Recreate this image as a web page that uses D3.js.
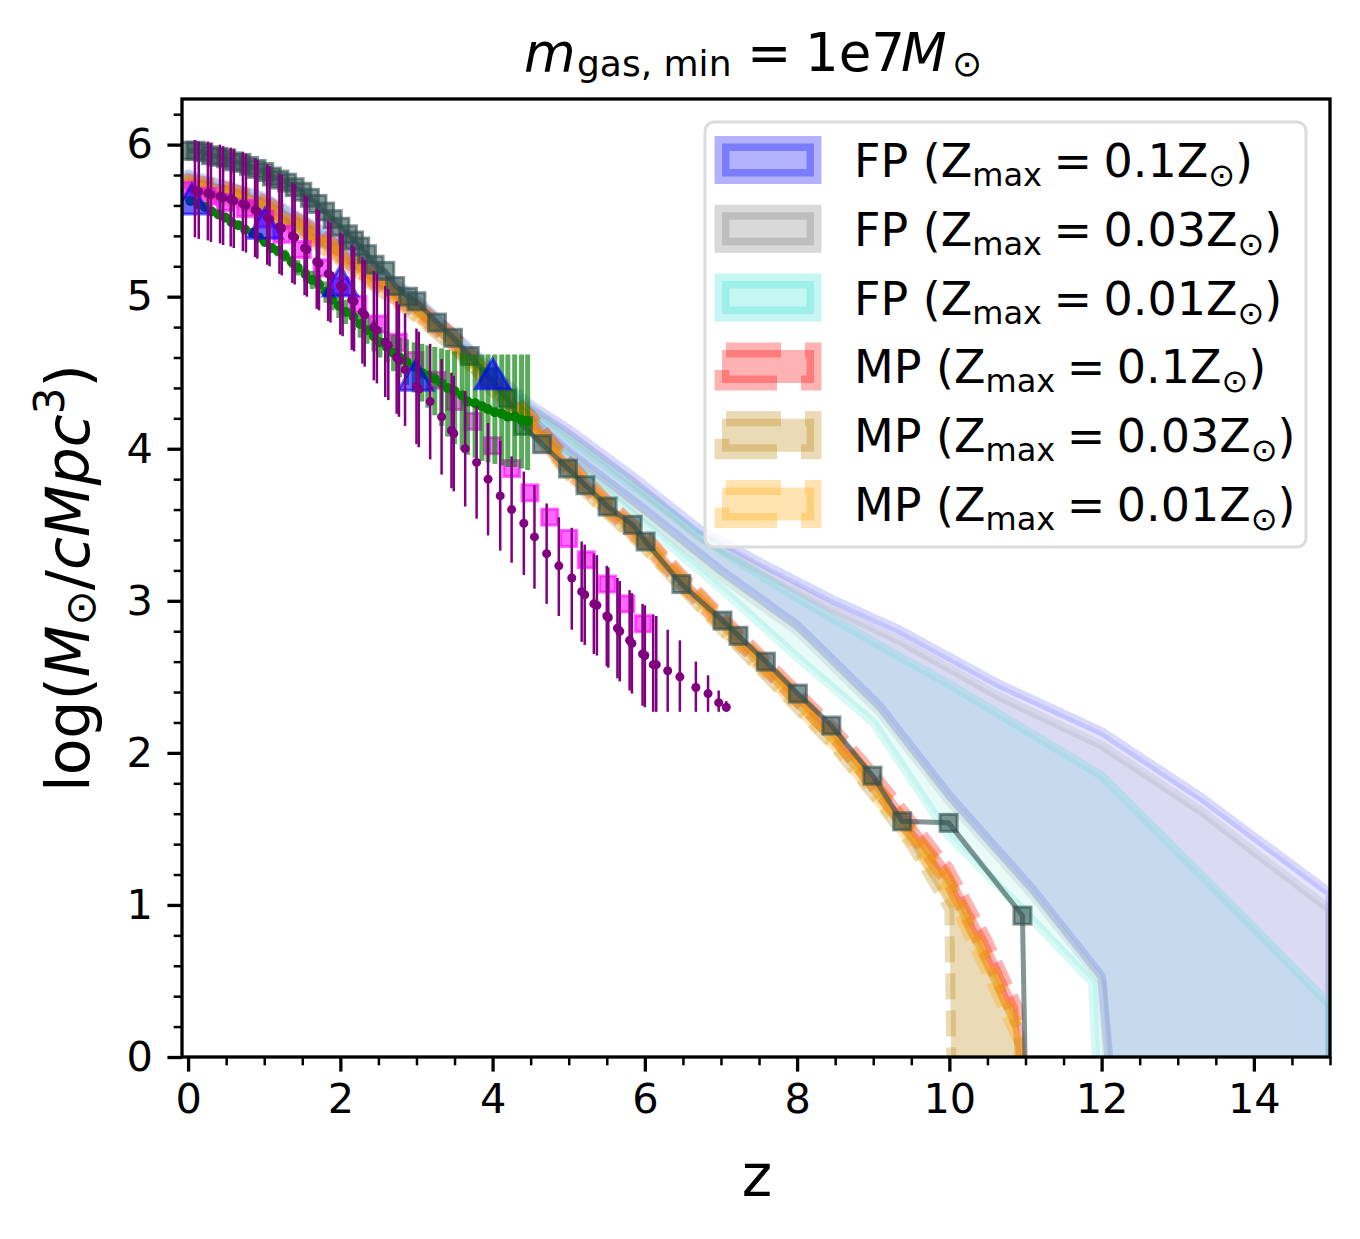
<!DOCTYPE html>
<html>
<head>
<meta charset="utf-8">
<script src="https://cdn.jsdelivr.net/npm/d3@7"></script>
<style>
  body { margin: 0; background: #fff; }
  svg text { font-family: 'DejaVu Sans', sans-serif; fill: #000; }
</style>
</head>
<body>
<div id="chart"></div>
<script>
// ---- data ----

// FP bands: upper and lower edges (z, log density); -0.6 means "below the axis"
const blueUpZ = [0, 1, 2, 3, 4, 4.5, 5, 5.84, 6.72, 7.6, 8.46, 9.34, 10.66, 12, 13.3, 14, 15];
const blueUpV = [5.81, 5.66, 5.37, 4.99, 4.52, 4.29, 4.13, 3.82, 3.47, 3.23, 3.01, 2.81, 2.45, 2.14, 1.71, 1.45, 1.08];
const blueLoZ = [0, 1, 2, 3, 4, 4.5, 5, 6, 7, 8, 8.29, 9.08, 10, 11.1, 12, 12.2, 15];
const blueLoV = [5.73, 5.58, 5.29, 4.92, 4.45, 4.2, 3.98, 3.6, 3.2, 2.84, 2.7, 2.31, 1.72, 1.1, 0.53, -0.6, -0.6];

const greyUpZ = [0, 1, 2, 3, 4, 4.5, 5, 5.84, 6.72, 7.6, 8.46, 9.34, 10.66, 12, 13.3, 14, 15];
const greyUpV = [5.8, 5.65, 5.36, 4.98, 4.51, 4.27, 4.1, 3.78, 3.42, 3.18, 2.95, 2.74, 2.37, 2.05, 1.62, 1.35, 0.97];
const greyLoZ = [0, 1, 2, 3, 4, 4.5, 5, 6, 7, 8, 8.29, 9.08, 10, 11.1, 12, 12.15, 15];
const greyLoV = [5.73, 5.58, 5.29, 4.92, 4.45, 4.2, 3.96, 3.56, 3.16, 2.8, 2.66, 2.27, 1.68, 1.06, 0.5, -0.6, -0.6];

const turqUpZ = [0, 1, 2, 3, 4, 4.5, 5, 6, 7, 8, 9, 10, 11, 12, 13.3, 14, 15];
const turqUpV = [5.8, 5.65, 5.36, 4.98, 4.5, 4.26, 4.07, 3.7, 3.33, 3.02, 2.73, 2.45, 2.15, 1.85, 1.2, 0.85, 0.34];
const turqLoZ = [0, 1, 2, 3, 4, 4.5, 5, 6, 7, 8, 9, 10, 11, 11.88, 11.98, 15];
const turqLoV = [5.73, 5.58, 5.29, 4.92, 4.45, 4.18, 3.93, 3.5, 3.08, 2.63, 2.2, 1.45, 0.95, 0.49, -0.6, -0.6];

// MP bands
const mpZ = [0, 0.5, 1, 1.5, 2, 2.5, 3, 3.5, 4, 4.5, 5, 5.5, 6, 6.5, 7, 7.5, 8, 8.5, 9, 9.5, 10, 10.5, 10.9, 11.02];
const redHi = [5.78, 5.73, 5.64, 5.50, 5.33, 5.14, 4.96, 4.75, 4.47, 4.23, 3.92, 3.67, 3.44, 3.17, 2.91, 2.66, 2.41, 2.16, 1.87, 1.56, 1.24, 0.77, 0.33, -0.6];
const redLo = [5.70, 5.65, 5.56, 5.42, 5.25, 5.06, 4.88, 4.67, 4.39, 4.15, 3.84, 3.59, 3.36, 3.09, 2.83, 2.58, 2.33, 2.08, 1.77, 1.46, 1.12, 0.63, 0.19, -0.6];
const orangeHi = [5.77, 5.72, 5.63, 5.49, 5.32, 5.13, 4.95, 4.74, 4.46, 4.22, 3.91, 3.66, 3.43, 3.16, 2.90, 2.64, 2.39, 2.13, 1.83, 1.51, 1.18, 0.67, 0.23, -0.6];
const orangeLo = [5.69, 5.64, 5.55, 5.41, 5.24, 5.05, 4.87, 4.66, 4.38, 4.14, 3.83, 3.58, 3.35, 3.08, 2.82, 2.56, 2.30, 2.04, 1.73, 1.41, 1.06, 0.54, 0.11, -0.6];
const tanZ = [0, 0.5, 1, 1.5, 2, 2.5, 3, 3.5, 4, 4.5, 5, 5.5, 6, 6.5, 7, 7.5, 8, 8.5, 9, 9.5, 10, 10.04, 10.5, 10.9, 11.0];
const tanHi = [5.76, 5.71, 5.62, 5.48, 5.31, 5.12, 4.94, 4.73, 4.45, 4.21, 3.90, 3.65, 3.42, 3.15, 2.89, 2.63, 2.37, 2.11, 1.81, 1.49, 1.16, 1.12, 0.64, 0.2, -0.6];
const tanLo = [5.68, 5.63, 5.54, 5.40, 5.23, 5.04, 4.86, 4.65, 4.37, 4.13, 3.82, 3.57, 3.34, 3.07, 2.81, 2.55, 2.29, 2.03, 1.72, 1.39, 0.97, -0.6, -0.6, -0.6, -0.6];

// dark slate grey squares
const darkZ = [0.0, 0.1, 0.2, 0.3, 0.4, 0.5, 0.6, 0.7, 0.8, 0.9, 1.0, 1.1, 1.2, 1.3, 1.4, 1.5, 1.6, 1.7, 1.8, 1.9, 2.0, 2.1, 2.18, 2.26, 2.35, 2.45, 2.59, 2.72, 2.89, 3.0, 3.27, 3.48, 3.70, 3.95, 4.19, 4.40, 4.65, 4.99, 5.22, 5.51, 5.84, 6.01, 6.48, 7.02, 7.23, 7.59, 8.01, 8.45, 8.99, 9.38, 9.99, 10.96, 11.03];
const darkV = [5.96, 5.96, 5.95, 5.93, 5.92, 5.91, 5.89, 5.88, 5.86, 5.84, 5.82, 5.79, 5.77, 5.75, 5.72, 5.69, 5.65, 5.61, 5.56, 5.51, 5.46, 5.41, 5.37, 5.33, 5.28, 5.21, 5.17, 5.07, 5.00, 4.97, 4.83, 4.73, 4.61, 4.47, 4.33, 4.15, 4.03, 3.87, 3.76, 3.62, 3.50, 3.39, 3.11, 2.87, 2.77, 2.60, 2.39, 2.18, 1.85, 1.55, 1.54, 0.93, -1];

// magenta squares
const magZ = [0.0, 0.26, 0.49, 0.75, 1.01, 1.23, 1.5, 1.76, 2.0, 2.23, 2.49, 2.76, 2.98, 3.27, 3.5, 3.74, 4.0, 4.25, 4.49, 4.75, 5.0, 5.23, 5.51, 5.75, 5.98];
const magV = [5.70, 5.66, 5.62, 5.58, 5.51, 5.41, 5.31, 5.19, 5.07, 4.95, 4.82, 4.70, 4.58, 4.45, 4.31, 4.18, 4.02, 3.87, 3.71, 3.55, 3.41, 3.27, 3.11, 2.98, 2.85];

// blue triangles
const triZ = [0.05, 1.01, 2.0, 2.99, 4.0];
const triV = [5.61, 5.45, 5.07, 4.45, 4.46];

// green points with error bars (value, lower end, upper end)
const greenZ = [0.03, 0.13, 0.22, 0.31, 0.40, 0.49, 0.57, 0.66, 0.75, 0.85, 0.93, 1.01, 1.10, 1.18, 1.27, 1.36, 1.44, 1.54, 1.63, 1.72, 1.81, 1.89, 1.98, 2.07, 2.17, 2.26, 2.35, 2.44, 2.52, 2.61, 2.70, 2.78, 2.87, 2.97, 3.07, 3.15, 3.24, 3.33, 3.41, 3.50, 3.60, 3.67, 3.77, 3.86, 3.94, 4.03, 4.12, 4.20, 4.29, 4.38, 4.46];
const greenV = [5.63, 5.61, 5.59, 5.56, 5.54, 5.52, 5.49, 5.47, 5.44, 5.42, 5.39, 5.36, 5.32, 5.30, 5.27, 5.23, 5.19, 5.15, 5.11, 5.08, 5.03, 4.98, 4.94, 4.90, 4.87, 4.82, 4.78, 4.74, 4.70, 4.67, 4.63, 4.60, 4.57, 4.54, 4.50, 4.48, 4.46, 4.43, 4.40, 4.38, 4.35, 4.31, 4.30, 4.28, 4.26, 4.24, 4.23, 4.21, 4.21, 4.19, 4.18];
const greenLo = [5.62, 5.60, 5.58, 5.55, 5.53, 5.505, 5.475, 5.45, 5.42, 5.40, 5.365, 5.33, 5.29, 5.265, 5.23, 5.19, 5.14, 5.10, 5.05, 5.02, 4.96, 4.91, 4.86, 4.82, 4.78, 4.73, 4.69, 4.64, 4.60, 4.57, 4.51, 4.47, 4.42, 4.37, 4.31, 4.27, 4.22, 4.15, 4.08, 4.03, 3.99, 3.96, 3.94, 3.92, 3.91, 3.90, 3.89, 3.88, 3.88, 3.87, 3.86];
const greenHi = [5.64, 5.62, 5.60, 5.57, 5.55, 5.535, 5.505, 5.49, 5.46, 5.44, 5.415, 5.39, 5.35, 5.335, 5.31, 5.27, 5.24, 5.20, 5.17, 5.14, 5.10, 5.05, 5.02, 4.98, 4.96, 4.91, 4.87, 4.84, 4.80, 4.77, 4.75, 4.73, 4.72, 4.70, 4.69, 4.68, 4.67, 4.66, 4.65, 4.64, 4.63, 4.62, 4.62, 4.62, 4.62, 4.62, 4.62, 4.62, 4.62, 4.62, 4.62];

// purple points with error bars (value, lower end, upper end)
const purpleZ = [0.09, 0.14, 0.26, 0.30, 0.42, 0.46, 0.56, 0.60, 0.72, 0.76, 0.88, 0.91, 1.04, 1.07, 1.20, 1.23, 1.37, 1.40, 1.53, 1.56, 1.69, 1.72, 1.84, 1.87, 2.00, 2.03, 2.15, 2.18, 2.29, 2.32, 2.44, 2.48, 2.59, 2.63, 2.74, 2.77, 2.85, 3.00, 3.03, 3.18, 3.33, 3.46, 3.49, 3.64, 3.79, 3.94, 4.10, 4.25, 4.41, 4.55, 4.71, 4.87, 5.04, 5.17, 5.21, 5.33, 5.37, 5.50, 5.52, 5.64, 5.67, 5.80, 5.83, 5.97, 6.00, 6.11, 6.15, 6.30, 6.46, 6.67, 6.83, 6.97, 7.07];
const purpleV = [5.70, 5.69, 5.68, 5.67, 5.66, 5.65, 5.64, 5.63, 5.61, 5.60, 5.57, 5.56, 5.52, 5.51, 5.46, 5.45, 5.40, 5.39, 5.32, 5.31, 5.23, 5.22, 5.15, 5.14, 5.07, 5.06, 4.98, 4.97, 4.90, 4.88, 4.80, 4.78, 4.70, 4.68, 4.60, 4.58, 4.52, 4.41, 4.39, 4.31, 4.21, 4.12, 4.10, 4.00, 3.91, 3.80, 3.69, 3.60, 3.51, 3.42, 3.31, 3.23, 3.15, 3.06, 3.04, 2.98, 2.97, 2.90, 2.89, 2.82, 2.80, 2.74, 2.72, 2.65, 2.64, 2.58, 2.58, 2.54, 2.50, 2.43, 2.39, 2.33, 2.30];
const purpleLo = [5.39, 5.38, 5.37, 5.36, 5.35, 5.34, 5.33, 5.32, 5.30, 5.29, 5.26, 5.25, 5.21, 5.20, 5.15, 5.14, 5.09, 5.08, 5.01, 5.00, 4.92, 4.91, 4.84, 4.83, 4.75, 4.74, 4.65, 4.64, 4.56, 4.54, 4.45, 4.43, 4.34, 4.32, 4.23, 4.21, 4.15, 4.03, 4.01, 3.93, 3.83, 3.74, 3.72, 3.62, 3.54, 3.43, 3.33, 3.25, 3.17, 3.08, 2.98, 2.90, 2.81, 2.73, 2.71, 2.65, 2.64, 2.57, 2.56, 2.49, 2.47, 2.41, 2.39, 2.31, 2.30, 2.27, 2.27, 2.27, 2.27, 2.27, 2.27, 2.27, 2.27];
const purpleHi = [6.03, 6.02, 6.02, 6.01, 6.00, 5.99, 5.98, 5.97, 5.95, 5.94, 5.91, 5.90, 5.87, 5.86, 5.81, 5.80, 5.75, 5.74, 5.67, 5.66, 5.58, 5.57, 5.50, 5.49, 5.42, 5.41, 5.34, 5.33, 5.26, 5.24, 5.17, 5.15, 5.07, 5.05, 4.97, 4.95, 4.89, 4.79, 4.77, 4.69, 4.59, 4.50, 4.48, 4.38, 4.28, 4.17, 4.05, 3.95, 3.85, 3.76, 3.64, 3.55, 3.48, 3.39, 3.37, 3.31, 3.30, 3.23, 3.22, 3.15, 3.13, 3.07, 3.05, 2.98, 2.97, 2.91, 2.90, 2.81, 2.74, 2.60, 2.51, 2.41, 2.34];

// ticks and legend text
const xMajor = [0, 2, 4, 6, 8, 10, 12, 14];
const xMinor = [0.5, 1, 1.5, 2.5, 3, 3.5, 4.5, 5, 5.5, 6.5, 7, 7.5, 8.5, 9, 9.5, 10.5, 11, 11.5, 12.5, 13, 13.5, 14.5, 15];
const yMajor = [0, 1, 2, 3, 4, 5, 6];
const yMinor = [0.2, 0.4, 0.6, 0.8, 1.2, 1.4, 1.6, 1.8, 2.2, 2.4, 2.6, 2.8, 3.2, 3.4, 3.6, 3.8, 4.2, 4.4, 4.6, 4.8, 5.2, 5.4, 5.6, 5.8, 6.2];
const legendModel = ['FP', 'FP', 'FP', 'MP', 'MP', 'MP'];
const legendZmax = ['0.1', '0.03', '0.01', '0.1', '0.03', '0.01'];
const legendColours = ['#0000ff', '#808080', '#40e0d0', '#ff0000', '#b8860b', '#ffa500'];

// ---- drawing ----
const W = 1360, H = 1239;
const plot = { left: 182, right: 1330, top: 99, bottom: 1057 };
const FONT = "'DejaVu Sans', sans-serif";
const SP = '\u2005';

const x = d3.scaleLinear().domain([-0.08, 15]).range([plot.left, plot.right]);
const y = d3.scaleLinear().domain([0, 6.3]).range([plot.bottom, plot.top]);

const svg = d3.select('#chart').append('svg').attr('width', W).attr('height', H);

svg.append('defs').append('clipPath').attr('id', 'plot-clip')
  .append('rect')
  .attr('x', plot.left).attr('y', plot.top)
  .attr('width', plot.right - plot.left).attr('height', plot.bottom - plot.top);

const g = svg.append('g').attr('clip-path', 'url(#plot-clip)');

const pts = (zs, vs) => zs.map((z, i) => [z, vs[i]]);
const line = d3.line().x((d) => x(d[0])).y((d) => y(d[1]));

function drawBand(up, lo, colour, fillOp, edgeOp, edgeW, dash) {
  const d = line(up.concat(lo.slice().reverse())) + 'Z';
  g.append('path').attr('d', d)
    .attr('fill', colour).attr('fill-opacity', fillOp).attr('stroke', 'none');
  g.append('path').attr('d', d)
    .attr('fill', 'none')
    .attr('stroke', colour).attr('stroke-opacity', edgeOp)
    .attr('stroke-width', edgeW)
    .attr('stroke-linejoin', 'round')
    .attr('stroke-dasharray', dash || null);
}

// FP bands
drawBand(pts(blueUpZ, blueUpV), pts(blueLoZ, blueLoV), '#0000ff', 0.1, 0.15, 9);
drawBand(pts(greyUpZ, greyUpV), pts(greyLoZ, greyLoV), '#808080', 0.1, 0.15, 9);
drawBand(pts(turqUpZ, turqUpV), pts(turqLoZ, turqLoV), '#40e0d0', 0.12, 0.2, 9);

// MP bands
drawBand(pts(mpZ, redHi), pts(mpZ, redLo), '#ff0000', 0.3, 0.3, 10, '26,11');
drawBand(pts(tanZ, tanHi), pts(tanZ, tanLo), '#b8860b', 0.3, 0.3, 10, '26,11');
drawBand(pts(mpZ, orangeHi), pts(mpZ, orangeLo), '#ffa500', 0.3, 0.3, 10, '26,11');

// dark slate grey line with squares
const dark = pts(darkZ, darkV);
g.append('path').attr('d', line(dark))
  .attr('fill', 'none').attr('stroke', '#2f4f4f')
  .attr('stroke-opacity', 0.6).attr('stroke-width', 5);
g.selectAll('rect.dark').data(dark).join('rect')
  .attr('class', 'dark')
  .attr('x', (d) => x(d[0]) - 8.5).attr('y', (d) => y(d[1]) - 8.5)
  .attr('width', 17).attr('height', 17)
  .attr('fill', '#2f4f4f').attr('fill-opacity', 0.6)
  .attr('stroke', '#2f4f4f').attr('stroke-opacity', 0.6).attr('stroke-width', 3);

// magenta squares
g.selectAll('rect.mag').data(pts(magZ, magV)).join('rect')
  .attr('class', 'mag')
  .attr('x', (d) => x(d[0]) - 8).attr('y', (d) => y(d[1]) - 8)
  .attr('width', 16).attr('height', 16)
  .attr('fill', '#ff00ff').attr('fill-opacity', 0.6)
  .attr('stroke', '#ff00ff').attr('stroke-opacity', 0.6).attr('stroke-width', 3);

// green points with error bars
const green = greenZ.map((z, i) => ({ z, v: greenV[i], lo: greenLo[i], hi: greenHi[i] }));
g.selectAll('line.gerr').data(green).join('line')
  .attr('class', 'gerr')
  .attr('x1', (d) => x(d.z)).attr('x2', (d) => x(d.z))
  .attr('y1', (d) => y(d.lo)).attr('y2', (d) => y(d.hi))
  .attr('stroke', '#008000').attr('stroke-opacity', 0.65).attr('stroke-width', 5);
g.append('path').attr('d', line(pts(greenZ, greenV)))
  .attr('fill', 'none').attr('stroke', '#008000').attr('stroke-width', 3);
g.selectAll('circle.gdot').data(green).join('circle')
  .attr('class', 'gdot')
  .attr('cx', (d) => x(d.z)).attr('cy', (d) => y(d.v)).attr('r', 5)
  .attr('fill', '#008000');

// blue triangles
g.selectAll('path.tri').data(pts(triZ, triV)).join('path')
  .attr('class', 'tri')
  .attr('transform', (d) => `translate(${x(d[0])},${y(d[1])})`)
  .attr('d', d3.symbol(d3.symbolTriangle, 520))
  .attr('fill', '#0000ff').attr('fill-opacity', 0.6)
  .attr('stroke', '#0000ff').attr('stroke-opacity', 0.6).attr('stroke-width', 3);

// purple points with error bars
const purple = purpleZ.map((z, i) => ({ z, v: purpleV[i], lo: purpleLo[i], hi: purpleHi[i] }));
g.selectAll('line.perr').data(purple).join('line')
  .attr('class', 'perr')
  .attr('x1', (d) => x(d.z)).attr('x2', (d) => x(d.z))
  .attr('y1', (d) => y(d.lo)).attr('y2', (d) => y(d.hi))
  .attr('stroke', '#800080').attr('stroke-width', 2.5);
g.selectAll('circle.pdot').data(purple).join('circle')
  .attr('class', 'pdot')
  .attr('cx', (d) => x(d.z)).attr('cy', (d) => y(d.v)).attr('r', 4.5)
  .attr('fill', '#800080');

// ---- axes ----
const TICK_FONT = 41.5;
function styleAxis(sel, width) {
  sel.select('.domain').remove();
  sel.selectAll('.tick line').attr('stroke', '#000').attr('stroke-width', width);
  sel.selectAll('.tick text').attr('font-family', FONT).attr('font-size', TICK_FONT).attr('fill', '#000');
}

svg.append('g')
  .attr('transform', `translate(0,${plot.bottom})`)
  .call(d3.axisBottom(x).tickValues(xMajor).tickSize(14.6).tickPadding(12).tickFormat(d3.format('d')))
  .call((s) => styleAxis(s, 3.3));
svg.append('g')
  .attr('transform', `translate(0,${plot.bottom})`)
  .call(d3.axisBottom(x).tickValues(xMinor).tickSize(8.3).tickFormat(''))
  .call((s) => styleAxis(s, 2.5));
svg.append('g')
  .attr('transform', `translate(${plot.left},0)`)
  .call(d3.axisLeft(y).tickValues(yMajor).tickSize(14.6).tickPadding(14.6).tickFormat(d3.format('d')))
  .call((s) => styleAxis(s, 3.3));
svg.append('g')
  .attr('transform', `translate(${plot.left},0)`)
  .call(d3.axisLeft(y).tickValues(yMinor).tickSize(8.3).tickFormat(''))
  .call((s) => styleAxis(s, 2.5));

svg.append('rect')
  .attr('x', plot.left).attr('y', plot.top)
  .attr('width', plot.right - plot.left).attr('height', plot.bottom - plot.top)
  .attr('fill', 'none').attr('stroke', '#000').attr('stroke-width', 3.3);

// ---- title and axis labels ----
const title = svg.append('text')
  .attr('y', 71)
  .attr('font-family', FONT).attr('font-size', 53);
title.append('tspan').attr('x', 524).attr('font-style', 'italic').text('m');
title.append('tspan').attr('x', 577).attr('font-size', 36).attr('dy', 5).text('gas, min');
title.append('tspan').attr('x', 747).attr('dy', -5).text('=');
title.append('tspan').attr('x', 805).text('1e7');
title.append('tspan').attr('x', 901).attr('font-style', 'italic').text('M');
title.append('tspan').attr('x', 952).attr('font-size', 36).attr('dy', 5).text('\u2299');

const ylab = svg.append('text')
  .attr('transform', 'translate(89,578) rotate(-90)')
  .attr('text-anchor', 'middle')
  .attr('font-family', FONT).attr('font-size', 60);
ylab.append('tspan').text('log(');
ylab.append('tspan').attr('font-style', 'italic').text('M');
ylab.append('tspan').attr('font-size', 42).attr('dy', 6).text('\u2299');
ylab.append('tspan').attr('dy', -6).text('/');
ylab.append('tspan').attr('font-style', 'italic').text('cMpc');
ylab.append('tspan').attr('font-size', 42).attr('dy', -25).text('3');
ylab.append('tspan').attr('dy', 25).text(')');

svg.append('text')
  .attr('x', 757).attr('y', 1196).attr('text-anchor', 'middle')
  .attr('font-family', FONT).attr('font-size', 58)
  .text('z');

// ---- legend ----
const legend = svg.append('g');
legend.append('rect')
  .attr('x', 705).attr('y', 122).attr('width', 601).attr('height', 425).attr('rx', 9)
  .attr('fill', '#fff').attr('fill-opacity', 0.8)
  .attr('stroke', '#dcdcdc').attr('stroke-width', 3);

const rowCentre = d3.scaleLinear().domain([0, 5]).range([160, 504]);
legendModel.forEach((model, i) => {
  const cy = rowCentre(i);
  const colour = legendColours[i];
  const handle = `M722,${cy + 16.5}H814V${cy - 16.5}H722Z`;
  legend.append('path').attr('d', handle)
    .attr('fill', colour).attr('fill-opacity', 0.3).attr('stroke', 'none');
  legend.append('path').attr('d', handle)
    .attr('fill', 'none').attr('stroke', colour).attr('stroke-opacity', 0.3)
    .attr('stroke-width', 15)
    .attr('stroke-dasharray', model === 'MP' ? '55,24' : null);

  const t = legend.append('text')
    .attr('x', 854).attr('y', cy + 17)
    .attr('font-family', FONT).attr('font-size', 46);
  t.append('tspan').text(`${model} (Z`);
  t.append('tspan').attr('font-size', 32).attr('dy', 9).text('max');
  t.append('tspan').attr('dy', -9).text(`${SP}=${SP}${legendZmax[i]}Z`);
  t.append('tspan').attr('font-size', 32).attr('dy', 9).text('\u2299');
  t.append('tspan').attr('dy', -9).text(')');
});
</script>
</body>
</html>
